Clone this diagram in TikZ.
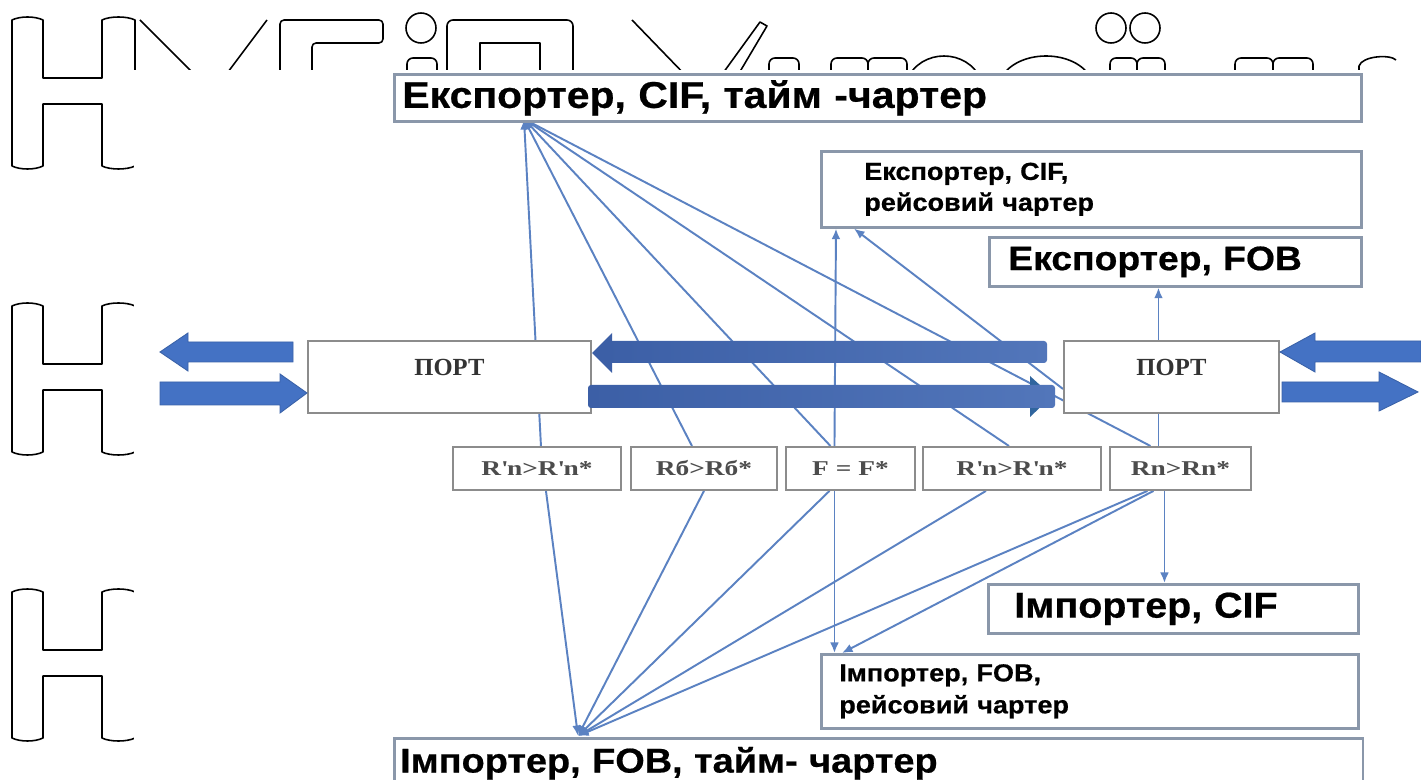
\documentclass[tikz,border=0pt]{standalone}
\usepackage{fontspec}
\setmainfont{Liberation Serif}
\newfontfamily\lblfont[FakeStretch=1.1, FakeBold=0.6]{Liberation Sans}
\newfontfamily\ratefont[FakeStretch=1.3]{Liberation Serif}
\usetikzlibrary{arrows.meta,calc}

\pgfdeclarelayer{back}
\pgfdeclarelayer{links}
\pgfsetlayers{back,links,main}

\newlength{\pxl}
\setlength{\pxl}{0.02cm}
\newcommand\apos{\textquotesingle}

\definecolor{framegray}{HTML}{8A97AA}
\definecolor{cellgray}{HTML}{8C8C8C}
\definecolor{linkblue}{HTML}{5B82C2}
\definecolor{fatblue}{HTML}{4472C4}
\definecolor{fatedge}{HTML}{3A62A8}
\definecolor{bardark}{HTML}{3C5FA6}
\definecolor{barlight}{HTML}{5276BA}

\tikzset{
  party/.style={draw=framegray, line width=1.5pt, fill=white, anchor=north west,
    align=left, font=\lblfont\bfseries},
  port/.style={draw=cellgray, line width=1.1pt, fill=white, anchor=north west},
  cell/.style={draw=cellgray, line width=1.1pt, fill=white, anchor=north west,
    minimum height=43\pxl, text=black!70, font=\ratefont\bfseries\fontsize{12}{12}\selectfont},
  link/.style={draw=linkblue, line width=1.1pt, -{Latex[length=6pt,width=5pt]}},
  fat/.style={fill=fatblue, draw=fatedge, line width=0.5pt},
  glyph/.style={draw=black, line width=0.9pt, line join=round},
}

\begin{document}
\begin{tikzpicture}[x=0.02cm, y=-0.02cm]
  \useasboundingbox (0,0) rectangle (1421,780);
  \clip (0,0) rectangle (1421,780);

  % big outlined letters behind the scheme
  \begin{pgfonlayer}{back}
  \foreach \dy in {0,286,572}
    \draw[glyph, shift={(0,\dy)}] (12,20) -- (12,166)
      .. controls (20,170) and (35,170) .. (43,166) -- (43,104) -- (102,104) -- (102,166)
      .. controls (110,170) and (127,170) .. (135,166) -- (135,20)
      .. controls (127,16) and (110,16) .. (102,20) -- (102,78) -- (43,78) -- (43,20)
      .. controls (35,16) and (20,16) .. (12,20) -- cycle;
  \draw[glyph] (140,20) -- (200,80);
  \draw[glyph] (222,80) -- (267,20);
  \draw[glyph, rounded corners=4\pxl] (280,80) -- (280,20) -- (383,20) -- (383,43) -- (312,43) -- (312,80);
  \draw[glyph] (421,28) ellipse (15 and 15);
  \draw[glyph, rounded corners=6\pxl] (407,80) -- (407,58) -- (437,58) -- (437,80);
  \draw[glyph, rounded corners=6\pxl] (447,80) -- (447,20) -- (573,20) -- (573,80);
  \draw[glyph] (480,80) -- (480,43) -- (540,43) -- (540,80);
  \draw[glyph] (632,20) -- (690,80);
  \draw[glyph] (718,80) -- (760,22) -- (767,26) -- (735,80);
  \foreach \xa/\xb in {769/799, 831/868, 868/907, 1110/1137, 1137/1165, 1235/1273, 1273/1313}
    \draw[glyph, rounded corners=6\pxl] (\xa,80) -- (\xa,58) -- (\xb,58) -- (\xb,80);
  \draw[glyph] (907,80) .. controls (920,48) and (968,48) .. (981,80);
  \draw[glyph] (1000,80) .. controls (1015,48) and (1077,48) .. (1092,80);
  \draw[glyph] (1111,28) ellipse (15 and 15);
  \draw[glyph] (1145,28) ellipse (15 and 15);
  \draw[glyph] (1359,80) -- (1359,66) .. controls (1362,56) and (1390,54) .. (1396,60);
  \fill[white] (134,70) rectangle (1421,780);
  \end{pgfonlayer}

  % parties of the deal
  \coordinate (hubT) at (524,119);
  \coordinate (hubB) at (578,736);
  \node[party, minimum width=967\pxl, minimum height=45\pxl, text width=951\pxl,
    font=\lblfont\bfseries\fontsize{21.2}{22}\selectfont] (expT) at (393,73)
    {Експортер, CIF, тайм -чартер};
  \node[party, minimum width=540\pxl, minimum height=76\pxl, text width=454\pxl,
    font=\lblfont\bfseries\fontsize{14}{17.6}\selectfont] (expV) at (820,150)
    {Експортер, CIF,\\ рейсовий чартер};
  \node[party, minimum width=372\pxl, minimum height=49\pxl, text width=334\pxl,
    font=\lblfont\bfseries\fontsize{19.3}{20}\selectfont] (expF) at (988,236)
    {Експортер, FOB};
  \node[party, minimum width=370\pxl, minimum height=49\pxl, text width=318\pxl,
    font=\lblfont\bfseries\fontsize{20.4}{24}\selectfont] (impC) at (987,583)
    {Імпортер, CIF};
  \node[party, minimum width=537\pxl, minimum height=74\pxl, text width=501\pxl,
    font=\lblfont\bfseries\fontsize{14}{18.2}\selectfont] (impV) at (820,653)
    {Імпортер, FOB,\\ рейсовий чартер};
  \node[party, minimum width=967\pxl, minimum height=50\pxl, text width=957\pxl,
    font=\lblfont\bfseries\fontsize{19.6}{20}\selectfont] (impT) at (393,737)
    {Імпортер, FOB, тайм- чартер};

  % ports and freight rates
  \node[port, minimum width=283\pxl, minimum height=72\pxl,
    label={[anchor=north, yshift=-13\pxl, font=\bfseries\fontsize{14}{14}\selectfont,
      text=black!80]north:ПОРТ}] (portL) at (307,340) {};
  \node[port, minimum width=215\pxl, minimum height=72\pxl,
    label={[anchor=north, yshift=-13\pxl, font=\bfseries\fontsize{14}{14}\selectfont,
      text=black!80]north:ПОРТ}] (portR) at (1063,340) {};
  \node[cell, minimum width=168\pxl] (c1) at (452,446) {R\apos n>R\apos n*};
  \node[cell, minimum width=146\pxl] (c2) at (630,446) {Rб>Rб*};
  \node[cell, minimum width=129\pxl] (c3) at (785,446) {F = F*};
  \node[cell, minimum width=178\pxl] (c4) at (922,446) {R\apos n>R\apos n*};
  \node[cell, minimum width=141\pxl] (c5) at (1109,446) {Rn>Rn*};

  % links between freight rates and parties
  \coordinate (f3) at ($(c3.north)+(-16,0)$);
  \coordinate (f5) at ($(c5.north)+(-22,0)$);
  \coordinate (g3) at ($(c3.south)+(-16,0)$);
  \coordinate (g5) at ($(c5.south)+(-16,0)$);
  \begin{pgfonlayer}{links}
  \draw[link] ($(c1.north)+(4,0)$) -- (hubT);
  \draw[link] ($(c2.north)+(-12,0)$) -- (hubT);
  \draw[link] ($(c3.north)+(-20,0)$) -- (hubT);
  \draw[link] ($(c4.north)+(-3,0)$) -- (hubT);
  \draw[link] ($(c5.north)+(-30,0)$) -- (hubT);
  \draw[link] (f3) -- ($(expV.south west)+(16,0)$);
  \draw[link] ($(portR.west)+(0,12)$) -- ($(expV.south west)+(34,0)$);
  \draw[link] (f5) -- (f5 |- expF.south);
  \draw[link] ($(c1.south)+(9,0)$) -- (hubB);
  \draw[link] (c2.south) -- (hubB);
  \draw[link] ($(c3.south)+(-21,0)$) -- (hubB);
  \draw[link] ($(c4.south)+(-26,0)$) -- (hubB);
  \draw[link] ($(c5.south)+(-33,0)$) -- (hubB);
  \draw[link] (g3) -- (g3 |- impV.north);
  \draw[link] ($(c5.south)+(-27,0)$) -- ($(impV.north west)+(22,0)$);
  \draw[link] (g5) -- (g5 |- impC.north);
  \end{pgfonlayer}

  % cargo flows
  \draw[fat] (293,342) -- (188,342) -- (188,333) -- (160,352) -- (188,371) -- (188,362) -- (293,362) -- cycle;
  \draw[fat] (160,382) -- (280,382) -- (280,374) -- (307,393) -- (280,413) -- (280,405) -- (160,405) -- cycle;
  \draw[fat] (1421,341) -- (1315,341) -- (1315,333) -- (1280,352) -- (1315,372) -- (1315,362) -- (1421,362) -- cycle;
  \draw[fat] (1282,382) -- (1379,382) -- (1379,372) -- (1418,392) -- (1379,411) -- (1379,402) -- (1282,402) -- cycle;
  \fill[bardark] (592,353) -- (612,333) -- (612,373) -- cycle;
  \shade[left color=bardark, right color=barlight, rounded corners=3\pxl] (603,341) rectangle (1047,363);
  \fill[bardark!80!teal] (1052,396) -- (1030,376) -- (1030,417) -- cycle;
  \shade[left color=bardark, right color=barlight, rounded corners=3\pxl] (588,385) rectangle (1055,408);
\end{tikzpicture}
\end{document}
